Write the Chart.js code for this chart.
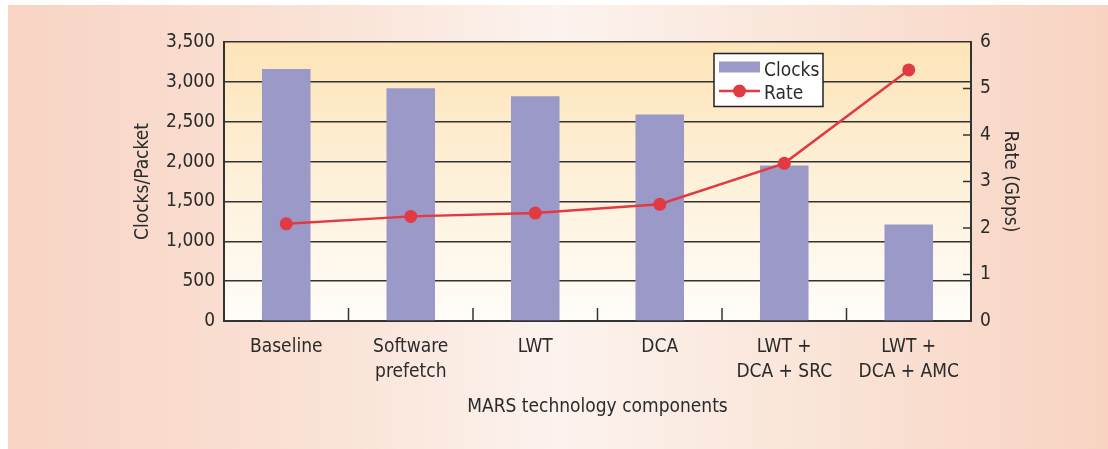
<!DOCTYPE html>
<html>
<head>
<meta charset="utf-8">
<script src="https://cdn.jsdelivr.net/npm/chart.js@4/dist/chart.umd.min.js"></script>
<style>
  html, body { margin: 0; padding: 0; background: #ffffff; width: 1108px; height: 449px; overflow: hidden; }
  #bg { position: absolute; left: 8px; top: 5px; right: 0; bottom: 0;
        background: linear-gradient(to right, #f8d4c4 0%, #fae3d7 30%, #fcf3ee 50%, #fae5d9 72%, #f8d3c2 100%); }
  #wrap { position: absolute; left: 0; top: 0; width: 1108px; height: 449px; }
</style>
</head>
<body>
<div id="bg"></div>
<div id="wrap"><canvas id="c" width="1108" height="449"></canvas></div>
<script>
// ---- data ----
const categories = ['Baseline', ['Software', 'prefetch'], 'LWT', 'DCA', ['LWT +', 'DCA + SRC'], ['LWT +', 'DCA + AMC']];
const clocks = [3160, 2920, 2820, 2590, 1950, 1210];
const rate = [2.09, 2.25, 2.32, 2.51, 3.39, 5.40];
const seriesNames = ['Clocks', 'Rate'];
const clockTicks = [0, 500, 1000, 1500, 2000, 2500, 3000, 3500];
const rateTicks = [0, 1, 2, 3, 4, 5, 6];
const xTitle = 'MARS technology components';
const yTitle = 'Clocks/Packet';
const y1Title = 'Rate (Gbps)';

const FONT = "'Liberation Sans Narrow', 'DejaVu Sans Condensed', 'Arial Narrow', sans-serif";
const FS = 19;
const TXT = '#2b2b2b';
const AXIS = '#333333';
const BAR = '#9a99c8';
const RED = '#e23a42';

Chart.defaults.font.family = FONT;
Chart.defaults.font.size = FS;
Chart.defaults.color = TXT;

const plotBg = {
  id: 'plotBg',
  beforeDraw(chart) {
    const {ctx, chartArea: a} = chart;
    const g = ctx.createLinearGradient(0, a.top, 0, a.bottom);
    g.addColorStop(0, '#fde4b8');
    g.addColorStop(1, '#fffdfa');
    ctx.save();
    ctx.fillStyle = g;
    ctx.fillRect(a.left, a.top, a.width, a.height);
    ctx.restore();
  }
};

const innerTicks = {
  id: 'innerTicks',
  afterDatasetsDraw(chart) {
    const {ctx, chartArea: a, scales} = chart;
    ctx.save();
    ctx.strokeStyle = AXIS;
    ctx.lineWidth = 1.5;
    const xs = scales.x;
    for (let i = 1; i < categories.length; i++) {
      const px = (xs.getPixelForValue(i - 1) + xs.getPixelForValue(i)) / 2;
      ctx.beginPath();
      ctx.moveTo(px, a.bottom);
      ctx.lineTo(px, a.bottom - 13);
      ctx.stroke();
    }
    const ys = scales.y1;
    ys.ticks.forEach(t => {
      if (t.value <= ys.min || t.value >= ys.max) return;
      const py = ys.getPixelForValue(t.value);
      ctx.beginPath();
      ctx.moveTo(a.right - 8, py);
      ctx.lineTo(a.right, py);
      ctx.stroke();
    });
    ctx.restore();
  }
};

const boxLegend = {
  id: 'boxLegend',
  afterDraw(chart) {
    const {ctx, chartArea: a} = chart;
    const bx = a.left + 490, by = a.top + 11.5, bw = 109, bh = 53;
    ctx.save();
    ctx.fillStyle = '#ffffff';
    ctx.fillRect(bx, by, bw, bh);
    ctx.strokeStyle = '#222';
    ctx.lineWidth = 1.5;
    ctx.strokeRect(bx, by, bw, bh);
    const ds = chart.data.datasets;
    ctx.fillStyle = ds[0].backgroundColor;
    ctx.fillRect(bx + 5, by + 8, 41, 11);
    const ly = by + 37.5;
    ctx.strokeStyle = ds[1].borderColor;
    ctx.lineWidth = 2.5;
    ctx.beginPath();
    ctx.moveTo(bx + 5, ly);
    ctx.lineTo(bx + 46, ly);
    ctx.stroke();
    ctx.fillStyle = ds[1].borderColor;
    ctx.beginPath();
    ctx.arc(bx + 25.5, ly, 6.5, 0, Math.PI * 2);
    ctx.fill();
    ctx.fillStyle = TXT;
    ctx.font = FS + 'px ' + FONT;
    ctx.textBaseline = 'alphabetic';
    ctx.textAlign = 'left';
    ctx.fillText(ds[0].label, bx + 50, by + 22.5);
    ctx.fillText(ds[1].label, bx + 50, by + 45.5);
    ctx.restore();
  }
};

new Chart(document.getElementById('c'), {
  data: {
    labels: categories,
    datasets: [
      { type: 'bar', label: seriesNames[0], data: clocks, backgroundColor: BAR, yAxisID: 'y',
        barPercentage: 0.39, categoryPercentage: 1.0, order: 2 },
      { type: 'line', label: seriesNames[1], data: rate, borderColor: RED, backgroundColor: RED,
        borderWidth: 2.5, pointRadius: 6.5, pointBackgroundColor: RED, pointBorderWidth: 0,
        tension: 0, yAxisID: 'y1', order: 1 }
    ]
  },
  options: {
    responsive: false,
    animation: false,
    layout: { padding: { top: 42, left: 0, right: 0, bottom: 0 } },
    plugins: { legend: { display: false }, tooltip: { enabled: false } },
    scales: {
      x: {
        type: 'category',
        grid: { display: false },
        border: { display: true, color: AXIS, width: 2 },
        ticks: { padding: 6, font: { size: FS, lineHeight: 1.3 }, maxRotation: 0, autoSkip: false },
        title: { display: true, text: xTitle, font: { size: FS }, padding: { top: 0, bottom: 31 } },
        afterFit(s) { s.height = 128; }
      },
      y: {
        position: 'left',
        min: 0, max: 3500,
        afterBuildTicks(s) { s.ticks = clockTicks.map(v => ({ value: v })); },
        ticks: { padding: 9, callback: v => v.toLocaleString('en-US') },
        grid: { color: AXIS, lineWidth: 1.5, drawTicks: false },
        border: { display: true, color: AXIS, width: 2 },
        title: { display: true, text: yTitle, font: { size: FS }, padding: { top: 132, bottom: 0 } },
        afterFit(s) { s.width = 224; }
      },
      y1: {
        position: 'right',
        min: 0, max: 6,
        afterBuildTicks(s) { s.ticks = rateTicks.map(v => ({ value: v })); },
        ticks: { padding: 9 },
        grid: { drawOnChartArea: false, drawTicks: false },
        border: { display: true, color: AXIS, width: 2 },
        title: { display: true, text: y1Title, font: { size: FS }, padding: { top: 87, bottom: 0 } },
        afterFit(s) { s.width = 137; }
      }
    }
  },
  plugins: [plotBg, innerTicks, boxLegend]
});
</script>
</body>
</html>
